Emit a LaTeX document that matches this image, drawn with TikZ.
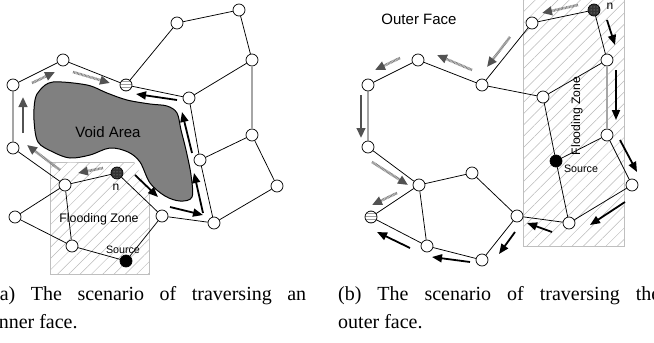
\documentclass[tikz,border=0pt]{standalone}
\usepackage{fontspec}
\setmainfont{Liberation Serif}
\setsansfont{Liberation Sans}
\usetikzlibrary{arrows.meta,patterns,patterns.meta}
\tikzset{
  nd/.style={circle,draw,fill=white,minimum size=12pt,inner sep=0pt,line width=0.7pt},
  stripednd/.style={nd,fill=gray!75,path picture={
      \foreach \i in {-4.5,-3,...,4.5}
        \draw[white,line width=0.5pt] ([yshift=\i pt]path picture bounding box.west) -- ([yshift=\i pt]path picture bounding box.east);}},
  nnd/.style={nd,fill=black!80,path picture={
      \fill[pattern=dots,pattern color=gray!60] (path picture bounding box.south west) rectangle (path picture bounding box.north east);}},
  srcnd/.style={nd,fill=black},
  edge/.style={line width=0.75pt},
  grayedge/.style={line width=1.2pt,gray!70},
  zone/.style={draw=gray!50,line width=0.8pt,pattern={Lines[angle=45,distance=8pt,line width=0.5pt]},pattern color=gray!55},
  darr/.style={black!50,line width=2.6pt,dash pattern=on 0.8pt off 0.6pt,-{Triangle[length=10pt,width=8.5pt,fill=black!68,color=black!68]}},
  sarr/.style={black!68,line width=2.8pt,-{Triangle[length=10pt,width=8.5pt]}},
  karr/.style={black,line width=1.8pt,-{Triangle[length=10pt,width=8pt]}},
  lbl/.style={font=\sffamily,inner sep=0pt},
  captxt/.style={inner sep=0pt,anchor=base west,font=\fontsize{20}{24}\selectfont}
}
\begin{document}
\begin{tikzpicture}[x=1pt,y=-1pt]
\useasboundingbox (0,0) rectangle (654,343);
% ---------- left panel ----------
\path[zone] (50,162) rectangle (149,274);
\draw[white,line width=9pt,line join=round]
  plot[smooth cycle,tension=0.55] coordinates{(40,90) (53,82) (87,85) (107,93) (127,100) (150,104) (167,106) (177,113) (181,130) (186,150) (191,175) (192,197) (180,201) (165,196) (150,183) (140,162) (128,152) (110,148) (90,155) (70,158) (53,152) (38,142) (34,120) (35,100)};
\draw[fill=black!50,line width=1pt]
  plot[smooth cycle,tension=0.55] coordinates{(40,90) (53,82) (87,85) (107,93) (127,100) (150,104) (167,106) (177,113) (181,130) (186,150) (191,175) (192,197) (180,201) (165,196) (150,183) (140,162) (128,152) (110,148) (90,155) (70,158) (53,152) (38,142) (34,120) (35,100)};
\node[lbl,font=\sffamily\fontsize{15}{18}\selectfont] (void) at (108,132) {Void Area};

\node[nd] (a1) at (177,23) {};
\node[nd] (a2) at (239,10) {};
\node[nd] (a3) at (252,60) {};
\node[nd] (a4) at (252,135) {};
\node[nd] (a5) at (277,186) {};
\node[nd] (a6) at (214,223) {};
\node[nd] (a7) at (200,160) {};
\node[nd] (a8) at (189,98) {};
\node[stripednd] (sa) at (126,85) {};
\node[nd] (a9) at (63,60) {};
\node[nd] (a10) at (13,85) {};
\node[nd] (a11) at (13,148) {};
\node[nd] (a12) at (65,185) {};
\node[nnd] (na) at (117,173) {};
\node[nd] (a13) at (162,216) {};
\node[nd] (a15) at (15,217) {};
\node[nd] (a16) at (72,246) {};
\node[srcnd] (srca) at (126,261) {};

\draw[edge] (a1) -- (a2) (a2) -- (a3) (a3) -- (a8) (a4) -- (a7) (a4) -- (a5) (a5) -- (a6)
  (a7) -- (a6) (a1) -- (sa) (a9) -- (sa) (a10) -- (a9) (a10) -- (a11) (a11) -- (a12)
  (sa) -- (a8) (a8) -- (a7) (a12) -- (na) (na) -- (a13) (a13) -- (a6) (a12) -- (a15)
  (a12) -- (a16) (a15) -- (a16) (a16) -- (srca) (srca) -- (a13);
\draw[grayedge] (a3) -- (a4);

\node[lbl,font=\sffamily\fontsize{12.4}{14}\selectfont] (fza) at (99,219) {Flooding Zone};
\node[lbl,font=\sffamily\fontsize{10.7}{12}\selectfont] (srclbla) at (123,250) {Source};
\node[lbl,font=\sffamily\fontsize{12}{14}\selectfont] (nlbla) at (116,187) {n};

\draw[darr] (32,83) -- (55,72);
\draw[darr] (73,72) -- (110,83);
\draw[sarr] (23,133) -- (23,97);
\draw[darr] (60,170) -- (27,145);
\draw[darr] (103,168) -- (78,173);
\draw[karr] (177,100) -- (136,94);
\draw[karr] (192,153) -- (182,112);
\draw[karr] (203,213) -- (194,173);
\draw[karr] (135,175) -- (158,197);
\draw[karr] (170,207) -- (203,215);

% ---------- right panel ----------
\path[zone] (523,-2) rectangle (624,246);
\node[lbl,font=\sffamily\fontsize{15}{18}\selectfont] (outer) at (419,19) {Outer Face};

\node[nnd] (b1) at (594,10) {};
\node[nd] (b2) at (532,23) {};
\node[nd] (b3) at (482,85) {};
\node[nd] (b4) at (418,60) {};
\node[nd] (b5) at (368,85) {};
\node[nd] (b6) at (368,147) {};
\node[nd] (b7) at (419,185) {};
\node[nd] (b8) at (472,173) {};
\node[stripednd] (sb) at (371,217) {};
\node[nd] (b9) at (427,246) {};
\node[nd] (b10) at (482,260) {};
\node[nd] (b11) at (517,216) {};
\node[nd] (b12) at (569,223) {};
\node[nd] (b13) at (632,185) {};
\node[srcnd] (srcb) at (556,161) {};
\node[nd] (b14) at (543,97) {};
\node[nd] (b15) at (607,60) {};
\node[nd] (b16) at (607,135) {};

\draw[edge] (b1) -- (b2) (b2) -- (b3) (b3) -- (b4) (b4) -- (b5) (b5) -- (b6) (b6) -- (b7)
  (b7) -- (b8) (b7) -- (sb) (b7) -- (b9) (sb) -- (b9) (b9) -- (b10) (b8) -- (b11)
  (b11) -- (b10) (b11) -- (b12) (b12) -- (b13) (b12) -- (srcb) (srcb) -- (b14)
  (b14) -- (b3) (b14) -- (b15) (b1) -- (b15) (b16) -- (srcb) (b16) -- (b13);
\draw[grayedge] (b15) -- (b16);

\node[lbl,font=\sffamily\fontsize{12.2}{14}\selectfont,rotate=90] (fzb) at (577,116) {Flooding Zone};
\node[lbl,font=\sffamily\fontsize{10.7}{12}\selectfont] (srclblb) at (581,169) {Source};
\node[lbl,font=\sffamily\fontsize{12}{14}\selectfont] (nlblb) at (610,6) {n};

\draw[darr] (578,5) -- (542,13);
\draw[darr] (510,37) -- (487,67);
\draw[darr] (472,70) -- (437,55);
\draw[darr] (400,58) -- (375,70);
\draw[sarr] (361,95) -- (361,138);
\draw[darr] (372,162) -- (408,185);
\draw[darr] (397,193) -- (372,205);
\draw[karr] (410,248) -- (377,232);
\draw[karr] (470,262) -- (432,257);
\draw[karr] (515,232) -- (499,254);
\draw[karr] (552,232) -- (527,223);
\draw[karr] (625,202) -- (590,225);
\draw[karr] (620,140) -- (637,172);
\draw[karr] (616,70) -- (616,120);
\draw[karr] (607,20) -- (615,45);

% ---------- captions ----------
\node[captxt] (capa1) at (-7,300) {\makebox[313pt][s]{(a) The scenario of traversing an}};
\node[captxt] (capa2) at (-7,328) {inner face.};
\node[captxt] (capb1) at (338,300) {\makebox[322pt][s]{(b) The scenario of traversing the}};
\node[captxt] (capb2) at (338,328) {outer face.};
\end{tikzpicture}
\end{document}
